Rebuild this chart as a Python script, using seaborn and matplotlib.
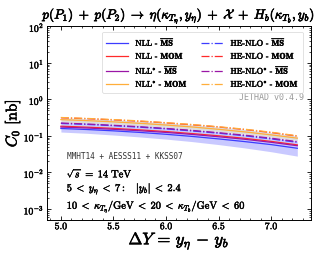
import numpy as np
import pandas as pd
import matplotlib
matplotlib.use("Agg")
import matplotlib.pyplot as plt
import matplotlib.patheffects as pe
import seaborn as sns

# ---- data ----
dY = [5.0, 5.25, 5.5, 5.75, 6.0, 6.25, 6.5, 6.75, 7.0, 7.25]

nll_ms = [0.160, 0.150, 0.138, 0.125, 0.111, 0.097, 0.083, 0.070, 0.058, 0.046]
nll_ms_lo = [0.128, 0.118, 0.106, 0.094, 0.082, 0.070, 0.058, 0.047, 0.037, 0.028]
nll_ms_hi = [0.245, 0.230, 0.212, 0.193, 0.172, 0.151, 0.130, 0.110, 0.091, 0.073]
nll_mom = [0.185, 0.174, 0.161, 0.147, 0.132, 0.116, 0.101, 0.086, 0.071, 0.057]
nllstar_ms = [0.175, 0.165, 0.152, 0.139, 0.125, 0.110, 0.095, 0.081, 0.067, 0.054]
nllstar_mom = [0.280, 0.263, 0.243, 0.222, 0.199, 0.176, 0.152, 0.129, 0.107, 0.087]
nlo_ms = [0.220, 0.207, 0.191, 0.174, 0.156, 0.137, 0.119, 0.101, 0.083, 0.067]
nlo_mom = [0.315, 0.297, 0.276, 0.253, 0.228, 0.202, 0.176, 0.150, 0.124, 0.099]
nlostar_ms = [0.226, 0.212, 0.196, 0.179, 0.161, 0.142, 0.123, 0.105, 0.087, 0.070]
nlostar_mom = [0.320, 0.302, 0.281, 0.258, 0.232, 0.206, 0.179, 0.153, 0.127, 0.101]
gray_lo = [0.240, 0.226, 0.209, 0.191, 0.172, 0.152, 0.132, 0.112, 0.093, 0.075]
gray_hi = [0.315, 0.297, 0.276, 0.253, 0.228, 0.202, 0.176, 0.150, 0.124, 0.099]

labels = [r"NLL - $\overline{\mathbf{MS}}$", r"NLL - $\mathbf{MOM}$",
          r"NLL$^{*}$ - $\overline{\mathbf{MS}}$", r"NLL$^{*}$ - $\mathbf{MOM}$",
          r"HE-NLO - $\overline{\mathbf{MS}}$", r"HE-NLO - $\mathbf{MOM}$",
          r"HE-NLO$^{*}$ - $\overline{\mathbf{MS}}$", r"HE-NLO$^{*}$ - $\mathbf{MOM}$"]
series = [nll_ms, nll_mom, nllstar_ms, nllstar_mom,
          nlo_ms, nlo_mom, nlostar_ms, nlostar_mom]
colors = ["#3c3cff", "#ff2a2a", "#9a16a6", "#ffae3a",
          "#3c3cff", "#ff2a2a", "#9a16a6", "#ffae3a"]
styles = ["-", "-", "-", "-", "-.", "-.", "-.", "-."]

plt.rcParams["mathtext.fontset"] = "cm"
plt.rcParams["font.family"] = ["serif"]
plt.rcParams["font.serif"] = ["cmr10", "DejaVu Serif"]
plt.rcParams["axes.formatter.use_mathtext"] = True

bold = [pe.withStroke(linewidth=0.45, foreground="black")]
bold_thin = [pe.withStroke(linewidth=0.3, foreground="black")]

fig = plt.figure(figsize=(3.17, 2.54), dpi=100)
ax = fig.add_axes([0.148, 0.134, 0.833, 0.762])

ax.fill_between(dY, nll_ms_lo, nll_ms_hi, color="#b8b8ff", alpha=0.75, lw=0, zorder=1)
ax.fill_between(dY, gray_lo, gray_hi, color="#d4d4d4", alpha=0.8, lw=0, zorder=1)

for vals, lab, c, ls in zip(series, labels, colors, styles):
    df = pd.DataFrame({"x": dY, "y": vals})
    sns.lineplot(data=df, x="x", y="y", ax=ax, color=c, linestyle=ls, lw=0.9,
                 label=lab, zorder=3)

ax.set_yscale("log")
ax.set_xlim(4.867, 7.38)
ax.set_ylim(5e-4, 1e2)
ax.set_xticks([5.0, 5.5, 6.0, 6.5, 7.0])
ax.set_xticklabels(["5.0", "5.5", "6.0", "6.5", "7.0"])
ax.xaxis.set_minor_locator(matplotlib.ticker.MultipleLocator(0.1))
ax.yaxis.set_minor_locator(matplotlib.ticker.LogLocator(base=10, subs=np.arange(2, 10), numticks=20))
ax.yaxis.set_minor_formatter(matplotlib.ticker.NullFormatter())
ax.tick_params(which="both", direction="in", top=True, right=True, labelsize=7, pad=2)
ax.tick_params(which="major", length=3, width=0.6)
ax.tick_params(which="minor", length=1.6, width=0.5)
fig.canvas.draw()
for lab in ax.get_xticklabels() + ax.get_yticklabels():
    lab.set_path_effects(bold_thin)
for s in ax.spines.values():
    s.set_linewidth(0.7)

xl = ax.set_xlabel(r"$\mathbf{\Delta} Y\, =\, y_\eta\, -\, y_b$", fontsize=12, labelpad=0)
xl.set_path_effects(bold)
yl = ax.set_ylabel(r"$C_0$ $[\mathrm{nb}]$", fontsize=11, labelpad=1)
yl.set_path_effects(bold)
tt = ax.set_title(r"$p(P_1)\;+\;p(P_2)\;\to\;\eta(\kappa_{T_\eta}, y_\eta)\;+\;\mathcal{X}\;+\;H_b(\kappa_{T_b}, y_b)$",
                  fontsize=9.5, pad=4)
tt.set_path_effects(bold)

leg = ax.legend(loc="upper right", ncol=2, prop={"size": 6}, frameon=True, fancybox=True,
                handlelength=2.6, columnspacing=1.6, borderpad=0.45, labelspacing=0.3,
                handletextpad=0.9, bbox_to_anchor=(0.985, 0.995))
leg.get_frame().set_linewidth(0.5)
leg.get_frame().set_edgecolor("#cccccc")
for t in leg.get_texts():
    t.set_path_effects(bold_thin)

ax.text(0.975, 0.635, "JETHAD v0.4.9", transform=ax.transAxes, ha="right", va="center",
        fontsize=6, family="DejaVu Sans Mono", color="#999999")
ax.text(0.075, 0.33, "MMHT14 + AESSS11 + KKSS07", transform=ax.transAxes, ha="left",
        va="center", fontsize=5.6, family="DejaVu Sans Mono", color="#333333")
for ty, s in [(0.245, r"$\sqrt{s}\;=\;14\ \mathrm{TeV}$"),
              (0.16, r"$5\;<\;y_\eta\;<\;7{:}\ \ \ |y_b|\;<\;2.4$"),
              (0.07, r"$10\;<\;\kappa_{T_\eta}/\mathrm{GeV}\;<\;20\;<\;\kappa_{T_b}/\mathrm{GeV}\;<\;60$")]:
    t = ax.text(0.075, ty, s, transform=ax.transAxes, ha="left", va="center", fontsize=7.5)
    t.set_path_effects(bold_thin)

fig.savefig("out.png", dpi=100)
